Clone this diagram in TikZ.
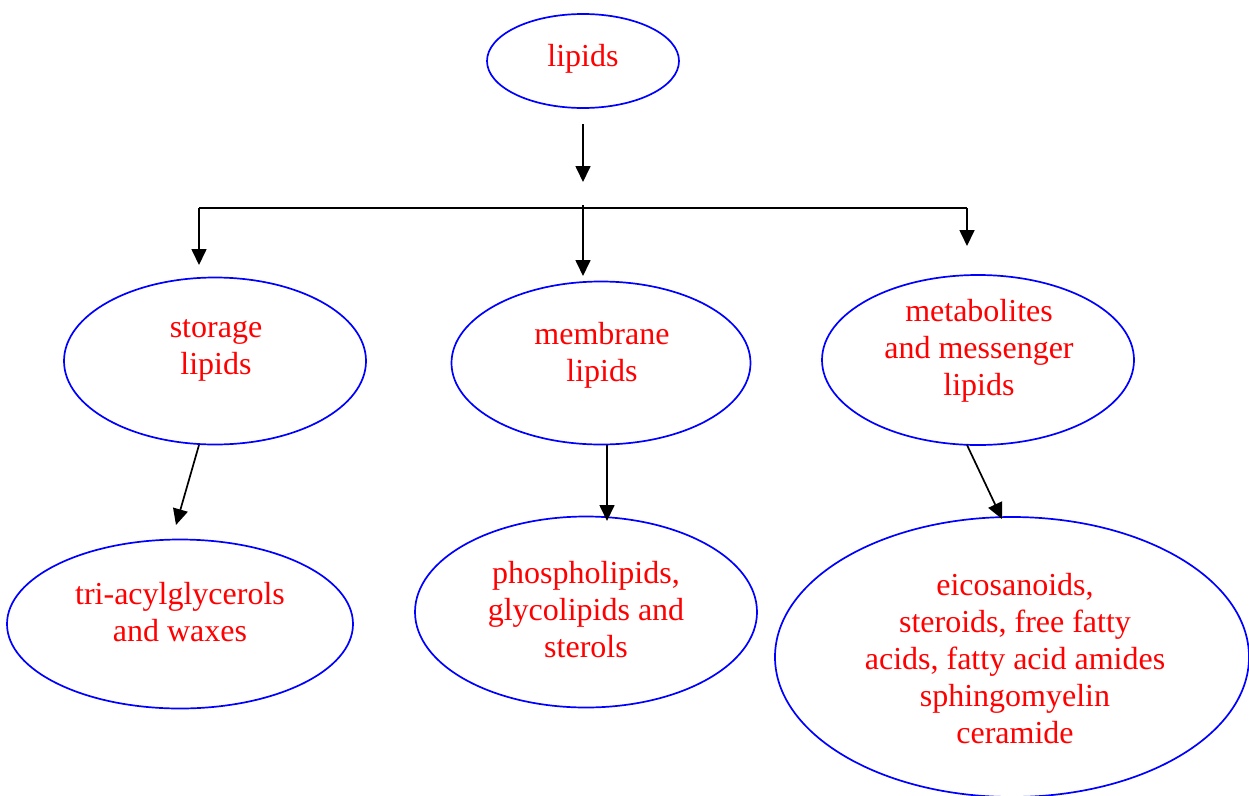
\documentclass[tikz,border=0pt]{standalone}
\usepackage{fontspec}
\setmainfont{Liberation Serif}
\usetikzlibrary{shapes.geometric,arrows.meta}
\begin{document}
\begin{tikzpicture}[x=1pt,y=-1pt,
  ell/.style={draw=blue,line width=1.7pt,ellipse,inner sep=0pt},
  txt/.style={text=red,align=center,font=\fontsize{32}{37}\selectfont,inner sep=0pt},
  conn/.style={draw=black,line width=1.7pt},
  arr/.style={conn,-{Triangle[length=16pt,width=15pt]}}]
\useasboundingbox (0,0) rectangle (1249,795);
\begin{scope}
\clip (0,0) rectangle (1249,795);
% ellipses
\node[ell,minimum width=192,minimum height=94] (lipids) at (583,61) {};
\node[ell,minimum width=302,minimum height=167] (storage) at (215,361) {};
\node[ell,minimum width=299,minimum height=163] (membrane) at (601,363) {};
\node[ell,minimum width=312,minimum height=170] (metab) at (978,360) {};
\node[ell,minimum width=346,minimum height=169] (tri) at (180,624) {};
\node[ell,minimum width=342,minimum height=191] (phospho) at (586,612) {};
\node[ell,minimum width=474,minimum height=280] (eico) at (1012,657) {};
% texts
\node[txt] (lipidsT) at (583,59) {lipids};
\node[txt] (storageT) at (216,350) {storage\\lipids};
\node[txt] (membraneT) at (602,355) {membrane\\lipids};
\node[txt] (metabT) at (979,351) {metabolites\\and messenger\\lipids};
\node[txt] (triT) at (180,612) {tri-acylglycerols\\and waxes};
\node[txt] (phosphoT) at (586,610) {phospholipids,\\glycolipids and\\sterols};
\node[txt] (eicoT) at (1015,659) {eicosanoids,\\steroids, free fatty\\acids, fatty acid amides\\sphingomyelin\\ceramide};
\end{scope}
% connectors
\coordinate (j0) at (583,124);
\coordinate (j1) at (583,182);
\coordinate (hl) at (199,208);
\coordinate (hm) at (583,205);
\coordinate (hr) at (967,208);
\coordinate (al) at (199,265);
\coordinate (am) at (583,276);
\coordinate (ar) at (967,246);
\draw[arr] (j0) -- (j1);
\draw[conn] (hl) -- (hr);
\draw[arr] (hl) -- (al);
\draw[arr] (hm) -- (am);
\draw[arr] (hr) -- (ar);
\coordinate (s0) at (199,445);
\coordinate (s1) at (176,525);
\coordinate (m0) at (607,445);
\coordinate (m1) at (607,521);
\coordinate (e0) at (967,445);
\coordinate (e1) at (1002,519);
\draw[arr] (s0) -- (s1);
\draw[arr] (m0) -- (m1);
\draw[arr] (e0) -- (e1);
\end{tikzpicture}
\end{document}
